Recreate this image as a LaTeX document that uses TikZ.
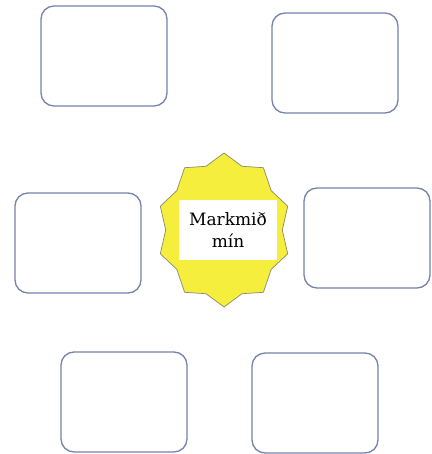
\documentclass[tikz,border=0pt]{standalone}
\usepackage{fontspec}
\setmainfont{DejaVu Serif}
\usepackage{tikz}
\usepackage{xcolor}
\usetikzlibrary{positioning, calc}
\definecolor{boxBlue}{HTML}{7482AC}
\definecolor{starYellow}{HTML}{F6EE3C}
\definecolor{starEdge}{HTML}{8A8A70}
\tikzset{
    goalBox/.style={rectangle, draw=boxBlue, line width=1.3pt, rounded corners=13pt, fill=white, minimum width=126pt, minimum height=100pt, inner sep=0pt},
    labelBox/.style={rectangle, fill=white, minimum width=98pt, minimum height=60pt, align=center, font=\fontsize{17}{22}\selectfont, text=black}
}
\begin{document}
\begin{tikzpicture}[x=1pt, y=-1pt]
    \useasboundingbox (0,0) rectangle (431,454);
    % star in the middle
    \coordinate (c) at (224,230);
    \draw[starEdge, fill=starYellow, line width=0.7pt]
        ($(c)+(0,-77)$) \foreach \k in {1,...,19} {
            \ifodd\k -- ($(c)+({0.87*67*cos(90+18*\k)},{-0.87*77*sin(90+18*\k)})$)
            \else -- ($(c)+({67*cos(90+18*\k)},{-77*sin(90+18*\k)})$) \fi
        } -- cycle;
    \node[labelBox] (goal) at (228,230) {Markmið\\mín};
    % boxes around
    \node[goalBox] (boxTL) at (104,56) {};
    \node[goalBox] (boxTR) at (335,63) {};
    \node[goalBox] (boxML) at (78,243) {};
    \node[goalBox] (boxMR) at (367,238) {};
    \node[goalBox] (boxBL) at (124,402) {};
    \node[goalBox] (boxBR) at (315,403) {};
\end{tikzpicture}
\end{document}
